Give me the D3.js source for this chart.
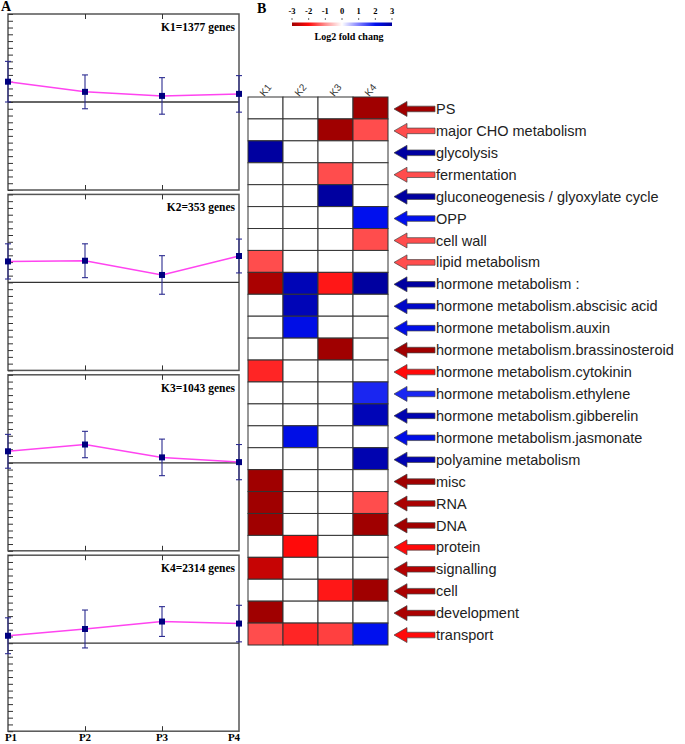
<!DOCTYPE html>
<html>
<head>
<meta charset="utf-8">
<script src="https://cdn.jsdelivr.net/npm/d3@7/dist/d3.min.js"></script>
<style>
  body { margin: 0; background: #fff; }
  svg { display: block; }
</style>
</head>
<body>
<svg id="chart" width="685" height="744"></svg>
<script>
// ---- data ----
var timePoints = ['P1', 'P2', 'P3', 'P4']
var clusters = ['K1', 'K2', 'K3', 'K4']
var clusterGenes = [1377, 353, 1043, 2314]
// mean profile of each cluster (one array per cluster) and error bar half-lengths
var meanK1 = [0.30, 0.15, 0.09, 0.12]
var meanK2 = [0.31, 0.32, 0.11, 0.39]
var meanK3 = [0.17, 0.27, 0.08, 0.01]
var meanK4 = [0.11, 0.21, 0.32, 0.29]
var errK1 = [0.30, 0.25, 0.27, 0.27]
var errK2 = [0.26, 0.25, 0.285, 0.25]
var errK3 = [0.25, 0.195, 0.27, 0.26]
var errK4 = [0.265, 0.28, 0.22, 0.27]

var categories = ['PS', 'major CHO metabolism', 'glycolysis', 'fermentation',
  'gluconeogenesis / glyoxylate cycle', 'OPP', 'cell wall', 'lipid metabolism',
  'hormone metabolism :', 'hormone metabolism.abscisic acid', 'hormone metabolism.auxin',
  'hormone metabolism.brassinosteroid', 'hormone metabolism.cytokinin',
  'hormone metabolism.ethylene', 'hormone metabolism.gibberelin',
  'hormone metabolism.jasmonate', 'polyamine metabolism', 'misc', 'RNA', 'DNA',
  'protein', 'signalling', 'cell', 'development', 'transport']
// log2 fold change per category, columns K1..K4
var foldValues = [
  [0, 0, 0, -3],
  [0, 0, -3, -1.5],
  [3, 0, 0, 0],
  [0, 0, -1.5, 0],
  [0, 0, 3, 0],
  [0, 0, 0, 2],
  [0, 0, 0, -1.5],
  [-1.5, 0, 0, 0],
  [-2.9, 2.7, -1.9, 3],
  [0, 2.7, 0, 0],
  [0, 2.1, 0, 0],
  [0, 0, -3, 0],
  [-1.8, 0, 0, 0],
  [0, 0, 0, 1.8],
  [0, 0, 0, 2.7],
  [0, 2.1, 0, 0],
  [0, 0, 0, 2.8],
  [-3, 0, 0, 0],
  [-3, 0, 0, -1.5],
  [-3, 0, 0, -3],
  [0, -2, 0, 0],
  [-2.6, 0, 0, 0],
  [0, 0, -1.9, -3],
  [-3, 0, 0, 0],
  [-1.5, -1.8, -1.6, 2]
]
// overall direction shown by the arrow of each category
var arrowValues = [-3, -1.5, 3, -1.5, 3, 2, -1.5, -1.5, 3, 2.5, 2.1, -3, -2, 1.8, 2.8,
  2.1, 2.8, -3, -2.9, -3, -2, -2.8, -2.9, -2.9, -2]
var legendTicks = [-3, -2, -1, 0, 1, 2, 3]

var svg = d3.select('#chart')
var serif = 'Liberation Serif, Times New Roman, serif'
var sans = 'Liberation Sans, Arial, sans-serif'

// ---- panel A: cluster profiles ----
var means = [meanK1, meanK2, meanK3, meanK4]
var errs = [errK1, errK2, errK3, errK4]

var x = d3.scalePoint().domain(timePoints).range([8, 239])
var panelH = 176

svg.append('text')
  .attr('x', 1).attr('y', 11)
  .style('font', 'bold 14px ' + serif)
  .text('A')

clusters.forEach(function (k, i) {
  var top = 14 + i * 180.4
  var y = d3.scaleLinear().domain([-1.3, 1.3]).range([top + panelH, top])
  var g = svg.append('g')

  g.append('rect')
    .attr('x', 8).attr('y', top)
    .attr('width', 231).attr('height', panelH)
    .attr('fill', 'none').attr('stroke', '#555').attr('stroke-width', 1.5)

  // minor ticks on left, inward
  g.append('g')
    .attr('transform', 'translate(8,0)')
    .call(d3.axisLeft(y).tickValues(d3.range(-13, 14).map(function (v) { return v / 10 }))
      .tickSize(-5).tickFormat(''))
    .call(function (a) {
      a.select('.domain').remove()
      a.selectAll('line').attr('stroke', '#333')
    })

  // ticks on top and bottom edges at P2, P3
  g.append('g')
    .attr('transform', 'translate(0,' + top + ')')
    .call(d3.axisTop(x).tickValues(['P2', 'P3']).tickSize(-5).tickFormat(''))
    .call(function (a) { a.select('.domain').remove(); a.selectAll('line').attr('stroke', '#333') })
  g.append('g')
    .attr('transform', 'translate(0,' + (top + panelH) + ')')
    .call(d3.axisBottom(x).tickValues(['P2', 'P3']).tickSize(-5).tickFormat(''))
    .call(function (a) { a.select('.domain').remove(); a.selectAll('line').attr('stroke', '#333') })

  // zero line
  g.append('line')
    .attr('x1', 8).attr('x2', 239)
    .attr('y1', y(0)).attr('y2', y(0))
    .attr('stroke', '#333').attr('stroke-width', 1.3)

  var pts = timePoints.map(function (p, j) {
    return { p: p, m: means[i][j], e: errs[i][j] }
  })

  // error bars
  var eb = g.selectAll('.eb').data(pts).enter().append('g')
    .attr('stroke', '#2b2b90').attr('stroke-width', 1.1)
  eb.append('line')
    .attr('x1', function (d) { return x(d.p) }).attr('x2', function (d) { return x(d.p) })
    .attr('y1', function (d) { return y(d.m + d.e) }).attr('y2', function (d) { return y(d.m - d.e) })
  eb.append('line')
    .attr('x1', function (d) { return x(d.p) - 3 }).attr('x2', function (d) { return x(d.p) + 3 })
    .attr('y1', function (d) { return y(d.m + d.e) }).attr('y2', function (d) { return y(d.m + d.e) })
  eb.append('line')
    .attr('x1', function (d) { return x(d.p) - 3 }).attr('x2', function (d) { return x(d.p) + 3 })
    .attr('y1', function (d) { return y(d.m - d.e) }).attr('y2', function (d) { return y(d.m - d.e) })

  var line = d3.line()
    .x(function (d) { return x(d.p) })
    .y(function (d) { return y(d.m) })
  g.append('path')
    .datum(pts)
    .attr('d', line)
    .attr('fill', 'none')
    .attr('stroke', '#ff44f0')
    .attr('stroke-width', 1.5)

  g.selectAll('.pt').data(pts).enter().append('rect')
    .attr('x', function (d) { return x(d.p) - 3 })
    .attr('y', function (d) { return y(d.m) - 3 })
    .attr('width', 6).attr('height', 6)
    .attr('fill', '#000080')

  g.append('text')
    .attr('x', 235).attr('y', top + 17)
    .attr('text-anchor', 'end')
    .style('font', 'bold 11.5px ' + serif)
    .text(k + '=' + clusterGenes[i] + ' genes')
})

// time point labels under the last panel
svg.selectAll('.pl').data(timePoints).enter().append('text')
  .attr('x', function (d) { return Math.min(Math.max(x(d), 11), 234) })
  .attr('y', 741)
  .attr('text-anchor', 'middle')
  .style('font', 'bold 11px ' + serif)
  .text(function (d) { return d })

// ---- panel B: heatmap ----
var color = d3.scaleLinear()
  .domain([-3, -2, -1, 0, 1, 2, 3])
  .range(['#a00000', '#ff0a0a', '#ff9090', '#ffffff', '#8080ff', '#0010ee', '#0000a0'])

svg.append('text')
  .attr('x', 257).attr('y', 13)
  .style('font', 'bold 14px ' + serif)
  .text('B')

// legend
var lx = d3.scaleLinear().domain([-3, 3]).range([292, 392])
var grad = svg.append('defs').append('linearGradient').attr('id', 'lg')
legendTicks.forEach(function (t) {
  grad.append('stop')
    .attr('offset', ((t + 3) / 6 * 100) + '%')
    .attr('stop-color', color(t))
})
svg.append('rect')
  .attr('x', lx(-3)).attr('y', 22.5)
  .attr('width', lx(3) - lx(-3)).attr('height', 3.5)
  .attr('fill', 'url(#lg)')
svg.selectAll('.lt').data(legendTicks).enter().append('text')
  .attr('x', function (d) { return lx(d) })
  .attr('y', 14)
  .attr('text-anchor', 'middle')
  .style('font', 'bold 8.5px ' + serif)
  .text(function (d) { return d })
svg.selectAll('.ltk').data(legendTicks).enter().append('line')
  .attr('x1', function (d) { return lx(d) }).attr('x2', function (d) { return lx(d) })
  .attr('y1', 18).attr('y2', 20)
  .attr('stroke', '#666')
svg.append('text')
  .attr('x', 349).attr('y', 40)
  .attr('text-anchor', 'middle')
  .style('font', 'bold 10px ' + serif)
  .text('Log2 fold chang')

var hx = d3.scaleBand().domain(clusters).range([248, 388])
var hy = d3.scaleBand().domain(categories).range([97, 645])

var cells = []
categories.forEach(function (c, r) {
  clusters.forEach(function (k, j) {
    cells.push({ c: c, k: k, v: foldValues[r][j] })
  })
})

svg.append('g').selectAll('rect').data(cells).enter().append('rect')
  .attr('x', function (d) { return hx(d.k) })
  .attr('y', function (d) { return hy(d.c) })
  .attr('width', hx.bandwidth())
  .attr('height', hy.bandwidth())
  .attr('fill', function (d) { return color(d.v) })
  .attr('stroke', '#333')
  .attr('stroke-width', 1)

svg.append('g').selectAll('text').data(clusters).enter().append('text')
  .attr('transform', function (d) {
    return 'translate(' + (hx(d) + hx.bandwidth() / 2) + ',90) rotate(-50)'
  })
  .attr('text-anchor', 'middle')
  .attr('dy', '0.35em')
  .style('font', '10px ' + sans)
  .attr('fill', '#333')
  .text(function (d) { return d })

// arrows pointing to the heatmap
var arrowPath = 'M0,0 L13,-7.5 L13,-2.8 L41,-2.8 L41,2.8 L13,2.8 L13,7.5 Z'
svg.append('g').selectAll('path').data(categories).enter().append('path')
  .attr('transform', function (d) { return 'translate(394,' + (hy(d) + hy.bandwidth() / 2 + 1) + ')' })
  .attr('d', arrowPath)
  .attr('fill', function (d, i) { return color(arrowValues[i]) })
  .attr('stroke', '#444')
  .attr('stroke-width', 0.7)

svg.append('g').selectAll('text').data(categories).enter().append('text')
  .attr('x', 436)
  .attr('y', function (d) { return hy(d) + hy.bandwidth() / 2 + 1 })
  .attr('dy', '0.35em')
  .style('font', '14.5px ' + sans)
  .attr('fill', '#222')
  .text(function (d) { return d })
</script>
</body>
</html>
